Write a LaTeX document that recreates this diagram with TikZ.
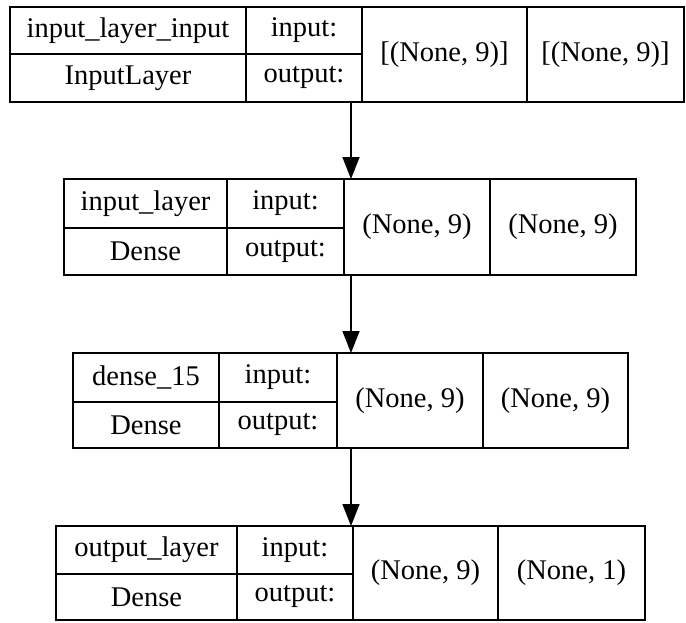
\documentclass[tikz,border=0pt]{standalone}
\usepackage{fontspec}
\setmainfont{Liberation Serif}
\usetikzlibrary{arrows.meta}
\newcommand\kcell[6]{\node[cell, minimum width={(#4-#2)*1pt}, minimum height={(#5-#3)*1pt}] (#1) at (#2,#3) {#6};}
\begin{document}
\begin{tikzpicture}[x=1pt,y=-1pt,
  cell/.style={draw, line width=1.5pt, anchor=north west, inner sep=0pt, outer sep=0pt, font=\fontsize{28.5}{30}\selectfont},
  arr/.style={line width=1.5pt, -{Triangle[length=22pt,width=17pt]}}]
\useasboundingbox (0,0) rectangle (686,622);
% box 1
\kcell{b1n}{10}{7}{246}{54}{input\_layer\_input}
\kcell{b1c}{10}{54}{246}{102}{InputLayer}
\kcell{b1i}{246}{7}{362}{54}{input:}
\kcell{b1o}{246}{54}{362}{102}{output:}
\kcell{b1in}{362}{7}{527}{102}{[(None, 9)]}
\kcell{b1out}{527}{7}{684}{102}{[(None, 9)]}
% box 2
\kcell{b2n}{64}{179}{227}{228}{input\_layer}
\kcell{b2c}{64}{228}{227}{275}{Dense}
\kcell{b2i}{227}{179}{344}{228}{input:}
\kcell{b2o}{227}{228}{344}{275}{output:}
\kcell{b2in}{344}{179}{490}{275}{(None, 9)}
\kcell{b2out}{490}{179}{636}{275}{(None, 9)}
% box 3
\kcell{b3n}{73}{353}{219}{402}{dense\_15}
\kcell{b3c}{73}{402}{219}{448}{Dense}
\kcell{b3i}{219}{353}{337}{402}{input:}
\kcell{b3o}{219}{402}{337}{448}{output:}
\kcell{b3in}{337}{353}{483}{448}{(None, 9)}
\kcell{b3out}{483}{353}{628}{448}{(None, 9)}
% box 4
\kcell{b4n}{56}{526}{237}{574}{output\_layer}
\kcell{b4c}{56}{574}{237}{620}{Dense}
\kcell{b4i}{237}{526}{353}{574}{input:}
\kcell{b4o}{237}{574}{353}{620}{output:}
\kcell{b4in}{353}{526}{498}{620}{(None, 9)}
\kcell{b4out}{498}{526}{645}{620}{(None, 1)}
% arrows
\coordinate (ax1) at (351,0);
\draw[arr] (b1o.south -| ax1) -- (b2in.north -| ax1);
\draw[arr] (b2in.south -| ax1) -- (b3in.north -| ax1);
\draw[arr] (b3in.south -| ax1) -- (b4in.north -| ax1);
\end{tikzpicture}
\end{document}
